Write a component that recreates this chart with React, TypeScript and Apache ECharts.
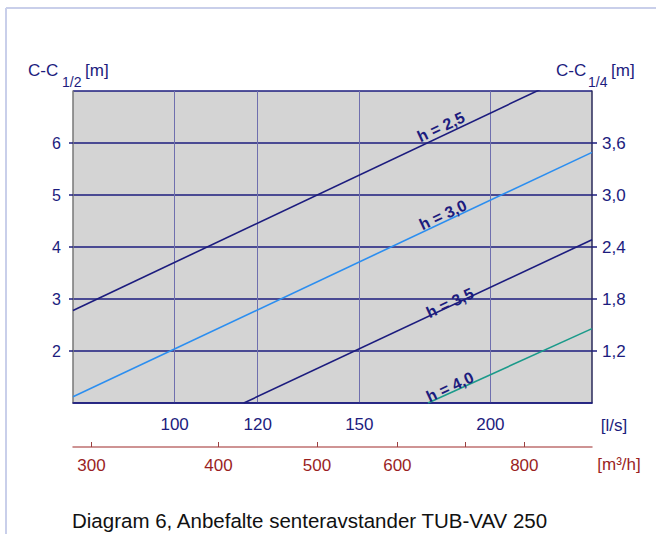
import React, { useEffect, useRef } from 'react';
import * as echarts from 'echarts';

// ---- data ----
const flowLsTicks = [100, 120, 150, 200];
const flowLsRange = [80, 250];
const flowM3hLabels = [300, 400, 500, 600, 800];
const flowM3hTicks = [300, 400, 500, 600, 700, 800];
const flowM3hRange = [287.7, 932.6];
const ccHalfRange = [1, 7];
const ccQuarterRange = [0.6, 4.2];
const seriesNames = ['h = 2,5', 'h = 3,0', 'h = 3,5', 'h = 4,0'];
const h25 = [[80, 2.78], [250, 7.5]];
const h30 = [[80, 1.12], [250, 5.82]];
const h35 = [[116.4, 1.0], [250, 4.14]];
const h40 = [[174.4, 1.0], [250, 2.43]];

const FONT = 'Liberation Sans, Arial, Helvetica, sans-serif';
const NAVY = '#1c1c7e';
const RED = '#9a1f1f';

const lg = (v: number) => Math.log10(v);
const toLog = (pts: number[][]) => pts.map(([x, y]) => [lg(x), y]);
const fmtComma = (v: number) => v.toFixed(1).replace('.', ',');

export default function App() {
  const ref = useRef<HTMLDivElement>(null);
  useEffect(() => {
    if (!ref.current) return;
    const chart = echarts.init(ref.current, null, { renderer: 'svg' });
    const lineColors = [NAVY, '#2b8ef0', NAVY, '#1a9a8a'];
    const datasets = [h25, h30, h35, h40];
    const labelPos = [
      [441, 127],
      [443, 215],
      [450, 303],
      [450, 387],
    ];
    const rot = (25 * Math.PI) / 180;
    chart.setOption({
      animation: false,
      backgroundColor: '#ffffff',
      grid: {
        left: 73,
        right: 64,
        top: 91,
        bottom: 131,
        show: true,
        backgroundColor: '#d4d4d4',
        borderWidth: 0,
      },
      xAxis: [
        {
          type: 'value',
          position: 'bottom',
          min: lg(flowLsRange[0]),
          max: lg(flowLsRange[1]),
          axisLine: { show: true, onZero: false, lineStyle: { color: NAVY, width: 1.5 } },
          axisTick: { show: false, customValues: flowLsTicks.map(lg) },
          splitLine: { show: true, lineStyle: { color: '#6f6fae', width: 1 } },
          axisLabel: {
            customValues: flowLsTicks.map(lg),
            formatter: (v: number) => String(Math.round(Math.pow(10, v))),
            color: NAVY,
            fontSize: 17,
            fontFamily: FONT,
            margin: 13,
          },
        },
        {
          type: 'value',
          position: 'bottom',
          offset: 44,
          min: lg(flowM3hRange[0]),
          max: lg(flowM3hRange[1]),
          axisLine: { show: true, onZero: false, lineStyle: { color: '#bf7070', width: 1.5 } },
          axisTick: {
            show: true,
            inside: true,
            length: 5,
            customValues: flowM3hTicks.map(lg),
            lineStyle: { color: '#9a4040', width: 1 },
          },
          splitLine: { show: false },
          axisLabel: {
            customValues: flowM3hLabels.map(lg),
            formatter: (v: number) => String(Math.round(Math.pow(10, v))),
            color: RED,
            fontSize: 17,
            fontFamily: FONT,
            margin: 10,
          },
        },
      ],
      yAxis: [
        {
          type: 'value',
          position: 'left',
          min: ccHalfRange[0],
          max: ccHalfRange[1],
          interval: 1,
          axisLine: { show: true, lineStyle: { color: '#777777', width: 1.5 } },
          axisTick: { show: true, length: 4, lineStyle: { color: NAVY, width: 1.5 } },
          splitLine: { show: true, lineStyle: { color: NAVY, width: 1.5 } },
          axisLabel: {
            showMinLabel: false,
            showMaxLabel: false,
            color: NAVY,
            fontSize: 16,
            fontFamily: FONT,
            margin: 12,
          },
        },
        {
          type: 'value',
          position: 'right',
          min: ccQuarterRange[0],
          max: ccQuarterRange[1],
          interval: 0.6,
          axisLine: { show: true, lineStyle: { color: '#2a2a5a', width: 1.5 } },
          axisTick: { show: true, length: 5, lineStyle: { color: NAVY, width: 1.5 } },
          splitLine: { show: false },
          axisLabel: {
            showMinLabel: false,
            showMaxLabel: false,
            formatter: fmtComma,
            color: NAVY,
            fontSize: 17,
            fontFamily: FONT,
            margin: 10,
          },
        },
      ],
      series: datasets.map((d, i) => ({
        name: seriesNames[i],
        type: 'line',
        xAxisIndex: 0,
        yAxisIndex: 0,
        data: toLog(d),
        showSymbol: false,
        symbol: 'none',
        clip: true,
        lineStyle: { color: lineColors[i], width: 1.6 },
        silent: true,
      })),
      graphic: [
        { type: 'line', shape: { x1: 6, y1: 8, x2: 656, y2: 8 }, style: { stroke: '#c9cfea', lineWidth: 2 } },
        { type: 'line', shape: { x1: 6, y1: 8, x2: 6, y2: 534 }, style: { stroke: '#c9cfea', lineWidth: 2 } },
        { type: 'text', x: 28, y: 79, style: { text: 'C-C', fill: NAVY, font: `17px ${FONT}`, textVerticalAlign: 'bottom' } },
        { type: 'text', x: 62, y: 89, style: { text: '1/2', fill: NAVY, font: `14px ${FONT}`, textVerticalAlign: 'bottom' } },
        { type: 'text', x: 85, y: 79, style: { text: '[m]', fill: NAVY, font: `17px ${FONT}`, textVerticalAlign: 'bottom' } },
        { type: 'text', x: 556, y: 79, style: { text: 'C-C', fill: NAVY, font: `17px ${FONT}`, textVerticalAlign: 'bottom' } },
        { type: 'text', x: 588, y: 89, style: { text: '1/4', fill: NAVY, font: `14px ${FONT}`, textVerticalAlign: 'bottom' } },
        { type: 'text', x: 611, y: 79, style: { text: '[m]', fill: NAVY, font: `17px ${FONT}`, textVerticalAlign: 'bottom' } },
        { type: 'text', x: 614, y: 425, style: { text: '[l/s]', fill: NAVY, font: `17px ${FONT}`, align: 'center', verticalAlign: 'middle' } },
        { type: 'text', x: 619, y: 464, style: { text: '[m³/h]', fill: RED, font: `17px ${FONT}`, align: 'center', verticalAlign: 'middle' } },
        { type: 'text', x: 72, y: 520, style: { text: 'Diagram 6, Anbefalte senteravstander TUB-VAV 250', fill: '#111111', font: `20.5px ${FONT}`, verticalAlign: 'middle' } },
        ...seriesNames.map((n, i) => ({
          type: 'text',
          x: labelPos[i][0],
          y: labelPos[i][1],
          rotation: rot,
          z: 10,
          style: { text: n, fill: NAVY, font: `bold 16px ${FONT}`, align: 'center', verticalAlign: 'middle' },
        })),
      ],
    });
    return () => chart.dispose();
  }, []);
  return (
    <div
      ref={ref}
      style={{ position: 'fixed', left: 0, top: 0, width: 656, height: 534, background: '#fff' }}
    />
  );
}
